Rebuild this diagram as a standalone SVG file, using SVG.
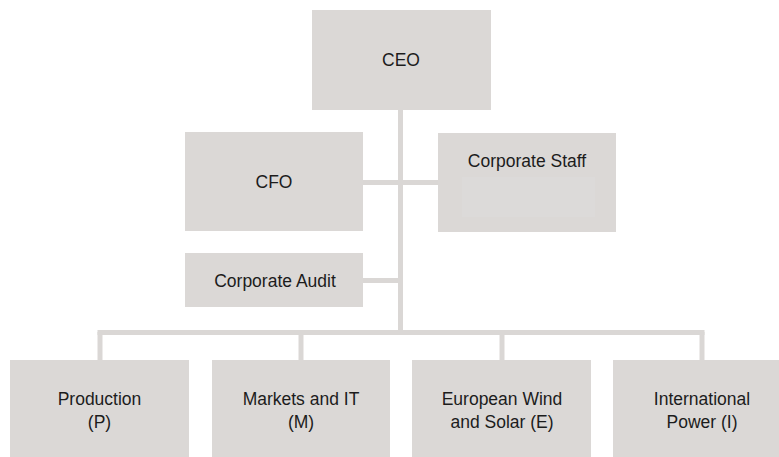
<svg xmlns="http://www.w3.org/2000/svg" width="779" height="457" viewBox="0 0 779 457">
  <style>
    .box { fill: #dbd8d6; }
    .lbl { font-family: "Liberation Sans", Arial, sans-serif; font-size: 17.5px; fill: #1c1c1c; text-anchor: middle; }
    .wire { stroke: #dad7d5; stroke-width: 5; fill: none; stroke-linecap: butt; }
  </style>
  <rect width="779" height="457" fill="#ffffff"/>

  <!-- reporting lines -->
  <g id="connectors">
    <line class="wire" x1="400.5" y1="110" x2="400.5" y2="335"/>
    <line class="wire" x1="363" y1="182.5" x2="438" y2="182.5"/>
    <line class="wire" x1="363" y1="280.5" x2="400.5" y2="280.5"/>
    <line class="wire" x1="97.5" y1="332.5" x2="704.5" y2="332.5"/>
    <line class="wire" x1="100" y1="332" x2="100" y2="360"/>
    <line class="wire" x1="301" y1="332" x2="301" y2="360"/>
    <line class="wire" x1="502" y1="332" x2="502" y2="360"/>
    <line class="wire" x1="702" y1="332" x2="702" y2="360"/>
  </g>

  <g id="ceo">
    <rect class="box" x="312" y="10" width="179" height="100"/>
    <text class="lbl" x="401" y="66">CEO</text>
  </g>

  <g id="cfo">
    <rect class="box" x="185" y="132" width="178" height="99"/>
    <text class="lbl" x="274" y="188">CFO</text>
  </g>

  <g id="corporate-staff">
    <rect class="box" x="438" y="133" width="178" height="99"/>
    <rect x="462" y="177" width="133" height="40" fill="#dcdad9"/>
    <text class="lbl" x="527" y="167">Corporate Staff</text>
  </g>

  <g id="corporate-audit">
    <rect class="box" x="185" y="253" width="178" height="54"/>
    <text class="lbl" x="275" y="287">Corporate Audit</text>
  </g>

  <g id="production">
    <rect class="box" x="10" y="360" width="179" height="97"/>
    <text class="lbl" x="99.5" y="405">Production</text>
    <text class="lbl" x="99.5" y="428">(P)</text>
  </g>

  <g id="markets-it">
    <rect class="box" x="212" y="360" width="178" height="97"/>
    <text class="lbl" x="301" y="405">Markets and IT</text>
    <text class="lbl" x="301" y="428">(M)</text>
  </g>

  <g id="european-wind-solar">
    <rect class="box" x="412" y="360" width="179" height="97"/>
    <text class="lbl" x="502" y="405">European Wind</text>
    <text class="lbl" x="502" y="428">and Solar (E)</text>
  </g>

  <g id="international-power">
    <rect class="box" x="613" y="360" width="178" height="97"/>
    <text class="lbl" x="702" y="405">International</text>
    <text class="lbl" x="702" y="428">Power (I)</text>
  </g>
</svg>
